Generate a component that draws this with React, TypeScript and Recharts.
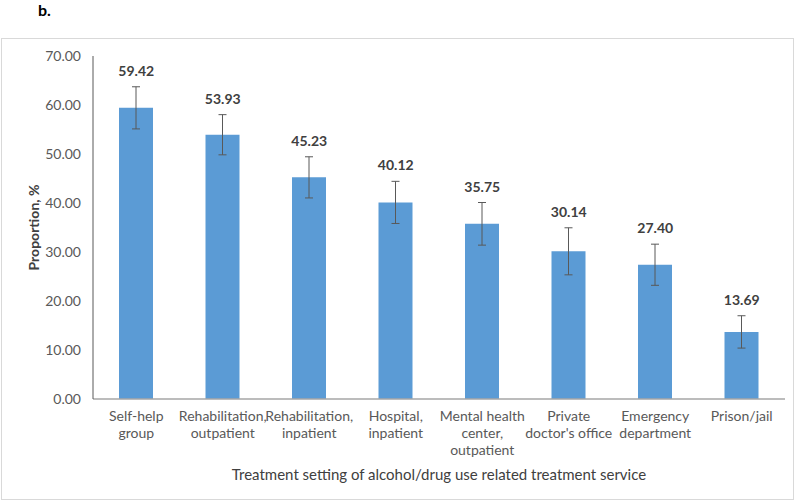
import React from 'react';
import { ComposedChart, Bar, Line, XAxis, YAxis, ErrorBar, LabelList, Label } from 'recharts';

const categories: string[][] = [
  ['Self-help', 'group'],
  ['Rehabilitation,', 'outpatient'],
  ['Rehabilitation,', 'inpatient'],
  ['Hospital,', 'inpatient'],
  ['Mental health', 'center,', 'outpatient'],
  ['Private', "doctor's office"],
  ['Emergency', 'department'],
  ['Prison/jail'],
];
const proportions: number[] = [59.42, 53.93, 45.23, 40.12, 35.75, 30.14, 27.4, 13.69];
const errors: number[] = [4.3, 4.1, 4.2, 4.3, 4.35, 4.8, 4.2, 3.3];
const yTicks: number[] = [0, 10, 20, 30, 40, 50, 60, 70];

const data = categories.map((c, i) => ({
  name: c.join(' '),
  lines: c,
  value: proportions[i],
  err: errors[i],
  top: proportions[i] + errors[i],
}));

const FONT = 'Lato, "Liberation Sans", sans-serif';

const XTick = (props: any) => {
  const { x, y, index } = props;
  const lines = categories[index] || [];
  return (
    <g>
      {lines.map((l, i) => (
        <text key={i} x={x} y={y + 14 + i * 17} textAnchor="middle" fontSize={14} fill="#595959" fontFamily={FONT}>
          {l}
        </text>
      ))}
    </g>
  );
};

const ValueLabel = (props: any) => {
  const { x, y, value } = props;
  return (
    <text x={x} y={y - 11} textAnchor="middle" fontSize={14} fontWeight="bold" fill="#404040" fontFamily={FONT}>
      {Number(value).toFixed(2)}
    </text>
  );
};

export default function App() {
  return (
    <div style={{ position: 'absolute', left: 0, top: 0, width: 800, height: 503, background: '#fff' }}>
      <div style={{ position: 'absolute', left: 38, top: 0, fontFamily: FONT, fontWeight: 'bold', fontSize: 16, color: '#000' }}>b.</div>
      <div style={{ position: 'absolute', left: 1, top: 38, width: 793, height: 462, border: '1px solid #d9d9d9', boxSizing: 'border-box' }} />
      <div style={{ position: 'absolute', left: 0, top: 0 }}>
        <ComposedChart width={800} height={503} data={data} margin={{ top: 56, right: 15, bottom: 4, left: 0 }} barCategoryGap="60%">
          <XAxis
            dataKey="name"
            interval={0}
            tickLine={false}
            tick={<XTick />}
            height={100}
            axisLine={{ stroke: '#A6A6A6', strokeWidth: 1.5 }}
          >
            <Label value="Treatment setting of alcohol/drug use related treatment service" position="insideBottom" offset={19} fontSize={15} fill="#404040" fontFamily={FONT} />
          </XAxis>
          <YAxis
            width={93}
            domain={[0, 70]}
            ticks={yTicks}
            tickFormatter={(v: number) => v.toFixed(2)}
            tickLine={false}
            tickMargin={6}
            axisLine={{ stroke: '#595959', strokeWidth: 1 }}
            tick={{ fontSize: 14, fill: '#595959', fontFamily: FONT }}
            interval={0}
          >
            <Label
              content={(p: any) => {
                const vb = p.viewBox;
                const cx = 33;
                const cy = vb.y + vb.height / 2;
                return (
                  <text x={cx} y={cy} transform={`rotate(-90 ${cx} ${cy})`} textAnchor="middle" dominantBaseline="central" fontSize={14} fontWeight="bold" fill="#404040" fontFamily={FONT}>
                    Proportion, %
                  </text>
                );
              }}
            />
          </YAxis>
          <Bar dataKey="value" fill="#5B9BD5" barSize={34} isAnimationActive={false}>
            <ErrorBar dataKey="err" width={4} stroke="#595959" strokeWidth={1} direction="y" />
          </Bar>
          <Line dataKey="top" stroke="none" dot={false} activeDot={false} isAnimationActive={false} legendType="none">
            <LabelList dataKey="value" content={<ValueLabel />} />
          </Line>
        </ComposedChart>
      </div>
    </div>
  );
}
